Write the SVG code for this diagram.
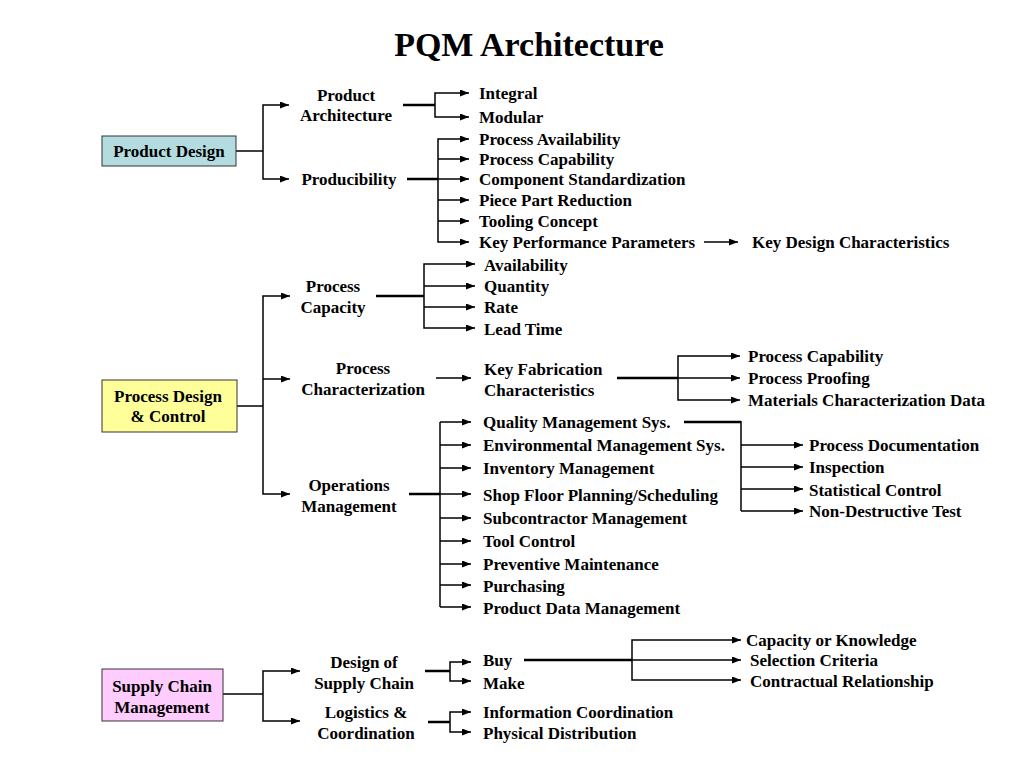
<svg xmlns="http://www.w3.org/2000/svg" width="1024" height="768" viewBox="0 0 1024 768">
<defs>
<marker id="ah" markerUnits="userSpaceOnUse" markerWidth="9" markerHeight="7" refX="9" refY="3.5" orient="auto">
<path d="M0,0 L9,3.5 L0,7 z" fill="#000"/>
</marker>
<style>
text{font-family:"Liberation Serif","Times New Roman",serif;font-weight:bold;font-size:17px;fill:#000}
.c{text-anchor:middle}
.t{font-size:34px}
.box{stroke:#333;stroke-width:1}
.ln{fill:none;stroke:#000;stroke-width:1.5}
.th{fill:none;stroke:#000;stroke-width:2.5}
.ar{fill:none;stroke:#000;stroke-width:1.5;marker-end:url(#ah)}
</style>
</defs>
<rect width="1024" height="768" fill="#fff"/>
<text class="c t" x="529" y="56">PQM Architecture</text>

<g id="connectors">
<path class="ln" d="M236,151 H263"/>
<path class="ar" d="M263,151 V105 H289"/>
<path class="ar" d="M263,151 V179 H289"/>
<path class="th" d="M403,105 H435"/>
<path class="ar" d="M435,105 V93 H469"/>
<path class="ar" d="M435,105 V117 H469"/>
<path class="th" d="M407,179 H438"/>
<path class="ar" d="M438,179 V139 H469"/>
<path class="ar" d="M438,159 H469"/>
<path class="ar" d="M438,179 H469"/>
<path class="ar" d="M438,179 V242 H469"/>
<path class="ar" d="M438,200 H469"/>
<path class="ar" d="M438,221 H469"/>
<path class="ar" d="M704,242 H738"/>
<path class="ln" d="M237,406 H263"/>
<path class="ar" d="M263,406 V296 H290"/>
<path class="ar" d="M263,379 H290"/>
<path class="ar" d="M263,406 V494 H290"/>
<path class="th" d="M376,296 H424"/>
<path class="ar" d="M424,296 V264 H475"/>
<path class="ar" d="M424,286 H475"/>
<path class="ar" d="M424,307 H475"/>
<path class="ar" d="M424,296 V328 H475"/>
<path class="ar" d="M436,378 H471"/>
<path class="th" d="M617,378 H678"/>
<path class="ar" d="M678,378 V356 H740"/>
<path class="ar" d="M678,378 H740"/>
<path class="ar" d="M678,378 V400 H740"/>
<path class="th" d="M409,494 H440"/>
<path class="ln" d="M440,422 V607"/>
<path class="ar" d="M440,422 H471"/>
<path class="ar" d="M440,445 H471"/>
<path class="ar" d="M440,468 H471"/>
<path class="ar" d="M440,494 H471"/>
<path class="ar" d="M440,518 H471"/>
<path class="ar" d="M440,541 H471"/>
<path class="ar" d="M440,564 H471"/>
<path class="ar" d="M440,585 H471"/>
<path class="ar" d="M440,607 H471"/>
<path class="th" d="M684,422 H741"/>
<path class="ln" d="M741,421 V511"/>
<path class="ar" d="M741,445 H803"/>
<path class="ar" d="M741,467 H803"/>
<path class="ar" d="M741,489 H803"/>
<path class="ar" d="M741,511 H803"/>
<path class="ln" d="M223,694 H263"/>
<path class="ar" d="M263,694 V671 H300"/>
<path class="ar" d="M263,694 V721 H300"/>
<path class="th" d="M425,671 H450"/>
<path class="ar" d="M450,671 V662 H471"/>
<path class="ar" d="M450,671 V681 H471"/>
<path class="th" d="M524,660 H632"/>
<path class="ar" d="M632,660 V640 H741"/>
<path class="ar" d="M632,660 H741"/>
<path class="ar" d="M632,660 V680 H741"/>
<path class="th" d="M428,722 H450"/>
<path class="ar" d="M450,722 V712 H471"/>
<path class="ar" d="M450,722 V732 H471"/>
</g>

<g id="product-design">
<rect class="box" x="102" y="136" width="134" height="30" fill="#B4DCE0"/>
<text class="c" x="169" y="157">Product Design</text>
</g>
<g id="product-architecture"><text class="c" x="346" y="101">Product</text><text class="c" x="346" y="121">Architecture</text></g>
<g id="integral"><text x="479" y="99">Integral</text></g>
<g id="modular"><text x="479" y="123">Modular</text></g>
<g id="producibility"><text class="c" x="349" y="185">Producibility</text></g>
<g id="process-availability"><text x="479" y="145">Process Availability</text></g>
<g id="process-capability-1"><text x="479" y="165">Process Capability</text></g>
<g id="component-standardization"><text x="479" y="185">Component Standardization</text></g>
<g id="piece-part-reduction"><text x="479" y="206">Piece Part Reduction</text></g>
<g id="tooling-concept"><text x="479" y="227">Tooling Concept</text></g>
<g id="key-performance-parameters"><text x="479" y="248">Key Performance Parameters</text></g>
<g id="key-design-characteristics"><text x="752" y="248">Key Design Characteristics</text></g>

<g id="process-design-control">
<rect class="box" x="102" y="380" width="135" height="52" fill="#FFFF99"/>
<text class="c" x="168" y="402">Process Design</text>
<text class="c" x="168" y="422">&amp; Control</text>
</g>
<g id="process-capacity"><text class="c" x="333" y="292">Process</text><text class="c" x="333" y="313">Capacity</text></g>
<g id="availability"><text x="484" y="271">Availability</text></g>
<g id="quantity"><text x="484" y="292">Quantity</text></g>
<g id="rate"><text x="484" y="313">Rate</text></g>
<g id="lead-time"><text x="484" y="335">Lead Time</text></g>
<g id="process-characterization"><text class="c" x="363" y="374">Process</text><text class="c" x="363" y="395">Characterization</text></g>
<g id="key-fabrication-characteristics"><text x="484" y="375">Key Fabrication</text><text x="484" y="396">Characteristics</text></g>
<g id="process-capability-2"><text x="748" y="362">Process Capability</text></g>
<g id="process-proofing"><text x="748" y="384">Process Proofing</text></g>
<g id="materials-characterization-data"><text x="748" y="406">Materials Characterization Data</text></g>
<g id="operations-management"><text class="c" x="349" y="491">Operations</text><text class="c" x="349" y="512">Management</text></g>
<g id="quality-management"><text x="483" y="428">Quality Management Sys.</text></g>
<g id="environmental-management"><text x="483" y="451">Environmental Management Sys.</text></g>
<g id="inventory-management"><text x="483" y="474">Inventory Management</text></g>
<g id="shop-floor"><text x="483" y="501">Shop Floor Planning/Scheduling</text></g>
<g id="subcontractor-management"><text x="483" y="524">Subcontractor Management</text></g>
<g id="tool-control"><text x="483" y="547">Tool Control</text></g>
<g id="preventive-maintenance"><text x="483" y="570">Preventive Maintenance</text></g>
<g id="purchasing"><text x="483" y="592">Purchasing</text></g>
<g id="product-data-management"><text x="483" y="614">Product Data Management</text></g>
<g id="process-documentation"><text x="809" y="451">Process Documentation</text></g>
<g id="inspection"><text x="809" y="473">Inspection</text></g>
<g id="statistical-control"><text x="809" y="496">Statistical Control</text></g>
<g id="non-destructive-test"><text x="809" y="517">Non-Destructive Test</text></g>

<g id="supply-chain-management">
<rect class="box" x="102" y="669" width="121" height="52" fill="#FFCCFF"/>
<text class="c" x="162" y="692">Supply Chain</text>
<text class="c" x="162" y="713">Management</text>
</g>
<g id="design-of-supply-chain"><text class="c" x="364" y="668">Design of</text><text class="c" x="364" y="689">Supply Chain</text></g>
<g id="buy"><text x="483" y="666">Buy</text></g>
<g id="make"><text x="483" y="689">Make</text></g>
<g id="capacity-or-knowledge"><text x="746" y="646">Capacity or Knowledge</text></g>
<g id="selection-criteria"><text x="750" y="666">Selection Criteria</text></g>
<g id="contractual-relationship"><text x="750" y="687">Contractual Relationship</text></g>
<g id="logistics-coordination"><text class="c" x="366" y="718">Logistics &amp;</text><text class="c" x="366" y="739">Coordination</text></g>
<g id="information-coordination"><text x="483" y="718">Information Coordination</text></g>
<g id="physical-distribution"><text x="483" y="739">Physical Distribution</text></g>
</svg>
